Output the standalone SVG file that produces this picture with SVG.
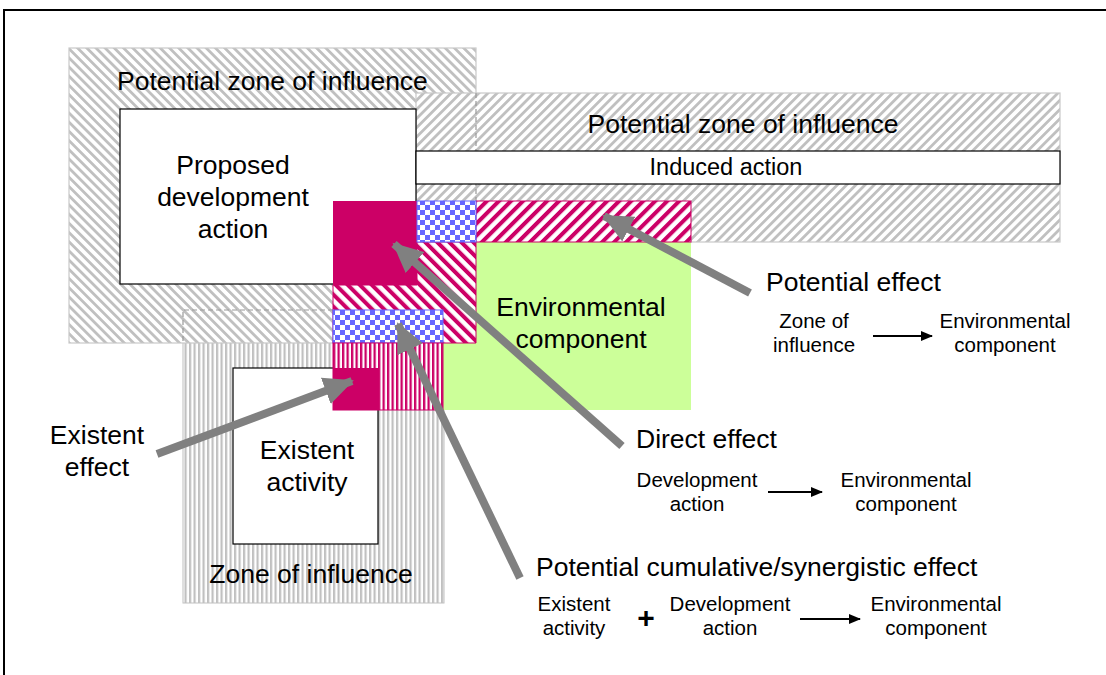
<svg xmlns="http://www.w3.org/2000/svg" width="1106" height="675" viewBox="0 0 1106 675">
<style>
text{font-family:"Liberation Sans",Arial,sans-serif;fill:#000}
.big{font-size:26.5px}
.mid{font-size:23.5px}
.sm{font-size:20.5px}
.box{fill:#fff;stroke:#000;stroke-width:1.2}
.dash{fill:none;stroke:#999;stroke-width:1.2;stroke-dasharray:5 3}
.garrow{stroke:#808080;stroke-width:8;fill:none;marker-end:url(#gh)}
.karrow{stroke:#000;stroke-width:2;fill:none;marker-end:url(#kh)}
</style>
<defs>
<pattern id="hatchB" width="6.5" height="6.5" patternUnits="userSpaceOnUse" patternTransform="rotate(-45)">
<rect width="6.5" height="6.5" fill="#fff"/><rect width="2.8" height="6.5" fill="#c0c0c0"/>
</pattern>
<pattern id="hatchF" width="6.5" height="6.5" patternUnits="userSpaceOnUse" patternTransform="rotate(45)">
<rect width="6.5" height="6.5" fill="#fff"/><rect width="2.8" height="6.5" fill="#c0c0c0"/>
</pattern>
<pattern id="vgray" width="4.5" height="10" patternUnits="userSpaceOnUse">
<rect width="4.5" height="10" fill="#fff"/><rect width="2.2" height="10" fill="#c0c0c0"/>
</pattern>
<pattern id="pinkB" width="8.5" height="8.5" patternUnits="userSpaceOnUse" patternTransform="rotate(-45)">
<rect width="8.5" height="8.5" fill="#fff"/><rect width="4" height="8.5" fill="#cc0066"/>
</pattern>
<pattern id="pinkF" width="8.5" height="8.5" patternUnits="userSpaceOnUse" patternTransform="rotate(45)">
<rect width="8.5" height="8.5" fill="#fff"/><rect width="4" height="8.5" fill="#cc0066"/>
</pattern>
<pattern id="vpink" width="4.5" height="10" patternUnits="userSpaceOnUse">
<rect width="4.5" height="10" fill="#fff"/><rect width="2.3" height="10" fill="#cc0066"/>
</pattern>
<pattern id="check" width="10" height="10" patternUnits="userSpaceOnUse">
<rect width="10" height="10" fill="#fff"/><rect width="5" height="5" fill="#6666ff"/><rect x="5" y="5" width="5" height="5" fill="#6666ff"/>
</pattern>
<marker id="gh" markerUnits="userSpaceOnUse" markerWidth="32" markerHeight="28" refX="28" refY="14" orient="auto">
<polygon points="0,0 30,14 0,28" fill="#808080"/>
</marker>
<marker id="kh" markerUnits="userSpaceOnUse" markerWidth="12" markerHeight="10" refX="11" refY="5" orient="auto">
<polygon points="0,0 12,5 0,10" fill="#000"/>
</marker>
</defs>
<rect x="4" y="10" width="1200" height="800" fill="#fff" stroke="#000" stroke-width="2"/>

<g id="zone-existent">
<rect x="183" y="310" width="261" height="293" fill="url(#vgray)" stroke="#c0c0c0" stroke-width="1"/>
</g>
<g id="zone-proposed">
<rect x="69" y="48" width="407" height="295" fill="url(#hatchB)" stroke="#c8c8c8" stroke-width="1.2"/>
<text class="big" x="117" y="90">Potential zone of influence</text>
</g>
<g id="zone-induced">
<rect x="416" y="93" width="644" height="149" fill="url(#hatchF)" stroke="#c8c8c8" stroke-width="1.2"/>
<line x1="476" y1="93" x2="476" y2="201" class="dash"/>
<text class="big" x="743" y="133" text-anchor="middle">Potential zone of influence</text>
</g>
<path class="dash" d="M333,310 H183 V343"/>
<g id="proposed-action">
<rect class="box" x="120" y="109" width="296" height="175"/>
<text class="big" text-anchor="middle"><tspan x="233" y="174">Proposed</tspan><tspan x="233" y="206">development</tspan><tspan x="233" y="238">action</tspan></text>
</g>
<g id="induced-action">
<rect class="box" x="416" y="151" width="644" height="33"/>
<text class="mid" x="726" y="175" text-anchor="middle">Induced action</text>
</g>
<g id="existent-activity">
<rect class="box" x="233" y="368" width="145" height="176"/>
<text class="big" text-anchor="middle"><tspan x="307" y="459">Existent</tspan><tspan x="307" y="491">activity</tspan></text>
<text class="big" x="311" y="583" text-anchor="middle">Zone of influence</text>
</g>
<g id="environmental-component">
<rect x="333" y="201" width="358" height="209" fill="#ccff99"/>
<rect x="476" y="201" width="215" height="41" fill="url(#pinkF)" stroke="#cc0066" stroke-width="1"/>
<path d="M417,242 H476 V343 H333 V285 H417 Z" fill="url(#pinkB)" stroke="#cc0066" stroke-width="1"/>
<rect x="333" y="201" width="84" height="84" fill="#cc0066"/>
<rect x="417" y="201" width="59" height="41" fill="url(#check)" stroke="#6666ff" stroke-width="1"/>
<rect x="333" y="310" width="110" height="33" fill="url(#check)" stroke="#6666ff" stroke-width="1"/>
<rect x="333" y="343" width="110" height="67" fill="url(#vpink)" stroke="#cc0066" stroke-width="1"/>
<rect x="333" y="368" width="45" height="42" fill="#cc0066"/>
<text class="big" text-anchor="middle"><tspan x="581" y="316">Environmental</tspan><tspan x="581" y="348">component</tspan></text>
</g>
<g id="connectors">
<line class="garrow" x1="750" y1="293" x2="604" y2="216"/>
<line class="garrow" x1="622" y1="446" x2="394" y2="244"/>
<line class="garrow" x1="157" y1="454" x2="352" y2="381"/>
<line class="garrow" x1="520" y1="578" x2="398" y2="324"/>
<line class="karrow" x1="873" y1="336" x2="932" y2="336"/>
<line class="karrow" x1="768" y1="492" x2="822" y2="492"/>
<line class="karrow" x1="800" y1="619" x2="860" y2="619"/>
</g>
<g id="label-existent-effect">
<text class="big" text-anchor="middle"><tspan x="97" y="444">Existent</tspan><tspan x="97" y="476">effect</tspan></text>
</g>
<g id="label-potential-effect">
<text class="big" x="766" y="291">Potential effect</text>
<text class="sm" text-anchor="middle"><tspan x="814" y="328">Zone of</tspan><tspan x="814" y="352">influence</tspan></text>
<text class="sm" text-anchor="middle"><tspan x="1005" y="328">Environmental</tspan><tspan x="1005" y="352">component</tspan></text>
</g>
<g id="label-direct-effect">
<text class="big" x="636" y="448">Direct effect</text>
<text class="sm" text-anchor="middle"><tspan x="697" y="487">Development</tspan><tspan x="697" y="511">action</tspan></text>
<text class="sm" text-anchor="middle"><tspan x="906" y="487">Environmental</tspan><tspan x="906" y="511">component</tspan></text>
</g>
<g id="label-cumulative-effect">
<text class="big" x="536" y="576">Potential cumulative/synergistic effect</text>
<text class="sm" text-anchor="middle"><tspan x="574" y="611">Existent</tspan><tspan x="574" y="635">activity</tspan></text>
<text x="646" y="628" text-anchor="middle" style="font-size:30px;font-weight:bold">+</text>
<text class="sm" text-anchor="middle"><tspan x="730" y="611">Development</tspan><tspan x="730" y="635">action</tspan></text>
<text class="sm" text-anchor="middle"><tspan x="936" y="611">Environmental</tspan><tspan x="936" y="635">component</tspan></text>
</g>
</svg>
